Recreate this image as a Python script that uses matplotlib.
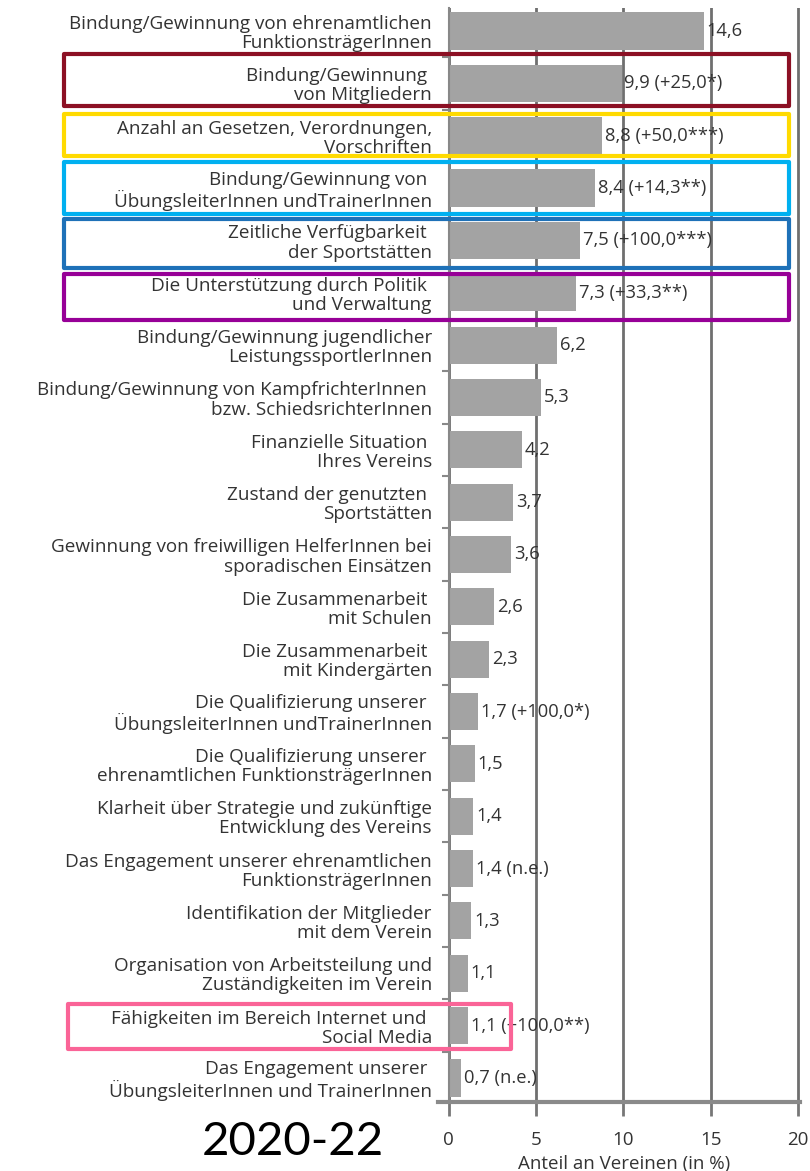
import matplotlib
matplotlib.use("Agg")
import matplotlib.pyplot as plt
from matplotlib.patches import Rectangle

plt.rcParams['font.family'] = ['Open Sans', 'DejaVu Sans']

categories = [
    "Bindung/Gewinnung von ehrenamtlichen\nFunktionsträgerInnen",
    "Bindung/Gewinnung \nvon Mitgliedern",
    "Anzahl an Gesetzen, Verordnungen,\nVorschriften",
    "Bindung/Gewinnung von \nÜbungsleiterInnen undTrainerInnen",
    "Zeitliche Verfügbarkeit \nder Sportstätten",
    "Die Unterstützung durch Politik \nund Verwaltung",
    "Bindung/Gewinnung jugendlicher\nLeistungssportlerInnen",
    "Bindung/Gewinnung von KampfrichterInnen \nbzw. SchiedsrichterInnen",
    "Finanzielle Situation \nIhres Vereins",
    "Zustand der genutzten \nSportstätten",
    "Gewinnung von freiwilligen HelferInnen bei\nsporadischen Einsätzen",
    "Die Zusammenarbeit \nmit Schulen",
    "Die Zusammenarbeit \nmit Kindergärten",
    "Die Qualifizierung unserer \nÜbungsleiterInnen undTrainerInnen",
    "Die Qualifizierung unserer \nehrenamtlichen FunktionsträgerInnen",
    "Klarheit über Strategie und zukünftige\nEntwicklung des Vereins",
    "Das Engagement unserer ehrenamtlichen\nFunktionsträgerInnen",
    "Identifikation der Mitglieder\nmit dem Verein",
    "Organisation von Arbeitsteilung und\nZuständigkeiten im Verein",
    "Fähigkeiten im Bereich Internet und \nSocial Media",
    "Das Engagement unserer \nÜbungsleiterInnen und TrainerInnen",
]
values = [14.6, 9.9, 8.8, 8.4, 7.5, 7.3, 6.2, 5.3, 4.2, 3.7, 3.6, 2.6, 2.3,
          1.7, 1.5, 1.4, 1.4, 1.3, 1.1, 1.1, 0.7]
changes = ["", "(+25,0*)", "(+50,0***)", "(+14,3**)", "(+100,0***)", "(+33,3**)",
           "", "", "", "", "", "", "", "(+100,0*)", "", "", "(n.e.)", "", "",
           "(+100,0**)", "(n.e.)"]
xticks = [0, 5, 10, 15, 20]
xlabel = "Anteil an Vereinen (in %)"
period = "2020-22"

W, H = 810, 1171
fig = plt.figure(figsize=(W / 100, H / 100), dpi=100)

px_per_unit = 17.475
x0_px, y_top_px, y_bot_px = 448.5, 8, 1102
xmax = 20.1
ax = fig.add_axes([x0_px / W, 1 - y_bot_px / H, xmax * px_per_unit / W, (y_bot_px - y_top_px) / H])

grey_txt = "#333333"
pos = list(range(len(categories)))
ax.barh(pos, values, height=0.71, color="#a3a3a3", zorder=2)

for i, (v, c) in enumerate(zip(values, changes)):
    s = f"{v:.1f}".replace(".", ",")
    if c:
        s += " " + c
    ax.text(v + 0.17, i, s, va="center", ha="left", fontsize=13.2, color=grey_txt, zorder=3)

ax.set_xlim(0, xmax)
ax.set_ylim(20.46, -0.44)
ax.set_xticks(xticks)
ax.set_xticklabels([str(t) for t in xticks], fontsize=13.5, color=grey_txt)
ax.set_yticks(pos)
ax.set_yticklabels(categories, fontsize=13.6, color=grey_txt, linespacing=1.08)
ax.set_yticks([p + 0.5 for p in pos[:-1]], minor=True)
ax.tick_params(axis="y", which="major", length=0, pad=12)
ax.tick_params(axis="y", which="minor", length=5, width=1.5, color="#888888")
ax.tick_params(axis="x", which="major", length=10, width=2, color="#777777", pad=11)
ax.set_xlabel(xlabel, fontsize=13.5, color=grey_txt, labelpad=4)

ax.xaxis.grid(True, color="#6f6f6f", linewidth=2, zorder=0)
ax.set_axisbelow(True)
for sp in ["top", "right"]:
    ax.spines[sp].set_visible(False)
ax.spines["left"].set_color("#888888")
ax.spines["left"].set_linewidth(1.5)
ax.spines["bottom"].set_visible(False)
ax.axhline(20.46, xmin=-0.03, xmax=1.0, color="#8a8a8a", linewidth=3, clip_on=False, zorder=4)

fig.text(293 / W, 1 - 1142 / H, period, fontsize=34, ha="center", va="center",
         color="black", family=["Lato", "DejaVu Sans"])

boxes = [
    ((64, 54, 789, 106), "#8c1024"),
    ((64, 114, 789, 156), "#ffda00"),
    ((64, 162, 789, 214), "#00b0f0"),
    ((64, 219, 789, 268), "#1e71b8"),
    ((64, 274, 789, 320), "#970097"),
    ((68, 1004, 511, 1049), "#fa6497"),
]
for (x1, y1, x2, y2), col in boxes:
    fig.patches.append(Rectangle((x1 / W, 1 - y2 / H), (x2 - x1) / W, (y2 - y1) / H,
                                 transform=fig.transFigure, fill=False, edgecolor=col,
                                 linewidth=3, joinstyle="round", zorder=10))

fig.savefig("out.png", dpi=100)
